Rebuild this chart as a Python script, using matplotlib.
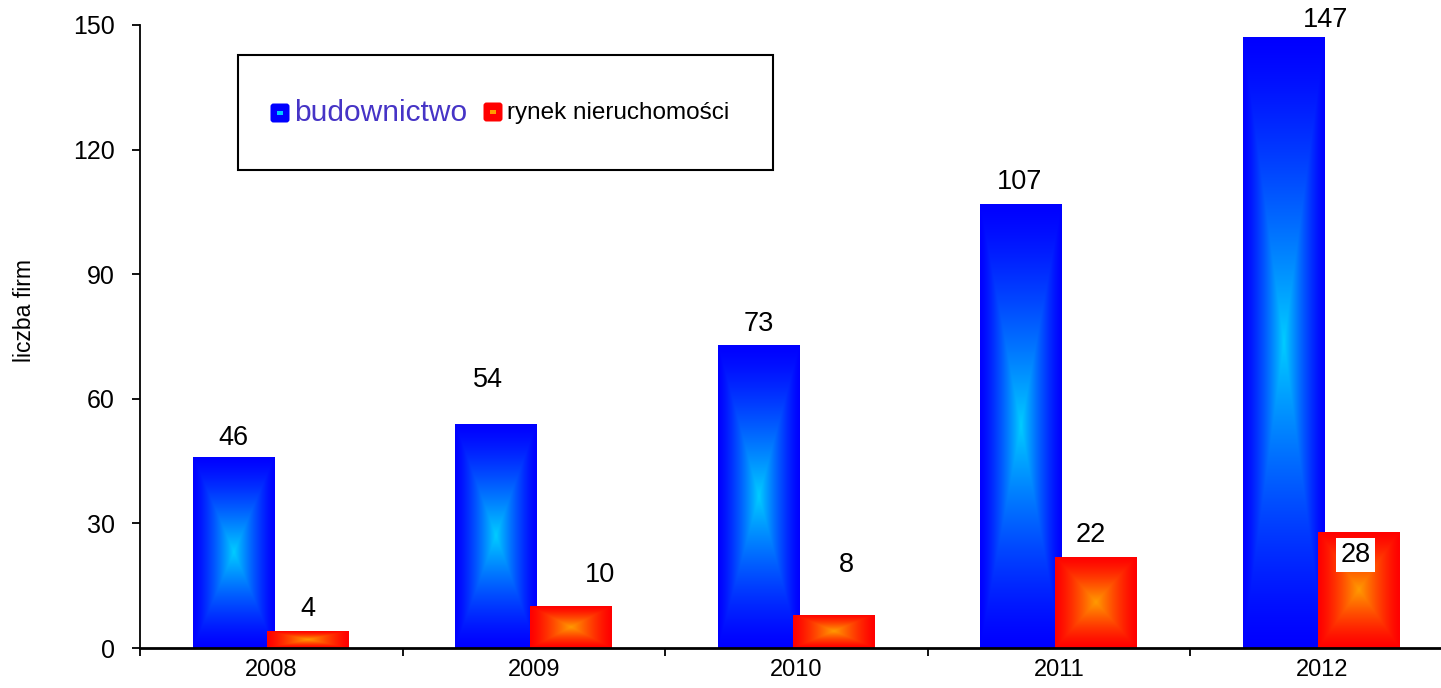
import numpy as np
import matplotlib
matplotlib.use("Agg")
import matplotlib.pyplot as plt
from matplotlib.patches import Rectangle, FancyBboxPatch
from matplotlib.transforms import Affine2D

# ---------------- data ----------------
years = ["2008", "2009", "2010", "2011", "2012"]
budownictwo = [46, 54, 73, 107, 147]
rynek = [4, 10, 8, 22, 28]
yticks = [0, 30, 60, 90, 120, 150]
series_names = ["budownictwo", "rynek nieruchomości"]
ylabel = "liczba firm"

# label offsets in pixels (dx, dy from bar top) -- styling only
blue_lbl_off = [(0, 12), (-8, 37), (0, 14), (-1, 15), (42, 10)]
red_lbl_off = [(0, 15), (29, 24), (13, 43), (-5, 15), (-3, -30)]

plt.rcParams['font.family'] = ['Liberation Sans', 'DejaVu Sans']

W, H = 1441, 688
fig = plt.figure(figsize=(W / 100, H / 100), dpi=100)
ax = fig.add_axes([140 / W, 40 / H, 1313 / W, 623 / H])

x = np.arange(len(years))
bw = 0.31
off_b, off_r = -0.145, 0.14

BLUE_EDGE = np.array([0, 0, 255]) / 255
BLUE_CENTER = np.array([0, 205, 255]) / 255
RED_EDGE = np.array([255, 0, 0]) / 255
RED_CENTER = np.array([255, 155, 0]) / 255


def grad(edge, center, nx=160, ny=400, p=1.3):
    u = np.linspace(-1, 1, nx)
    v = np.linspace(-1, 1, ny)
    U, V = np.meshgrid(u, v)
    t = np.maximum(np.abs(U), np.abs(V))
    w = (1 - t) ** p
    img = edge[None, None, :] + (center - edge)[None, None, :] * w[:, :, None]
    return np.clip(img, 0, 1)


def gradient_bars(xs, vals, edge, center):
    bars = ax.bar(xs, vals, width=bw, color='none', linewidth=0, zorder=2)
    img = grad(edge, center)
    for b in bars:
        x0, y0 = b.get_x(), b.get_y()
        w, h = b.get_width(), b.get_height()
        im = ax.imshow(img, extent=(x0, x0 + w, y0, y0 + h), aspect='auto',
                       interpolation='bilinear', zorder=2, origin='lower')
        im.set_clip_path(b)
    return bars


bars_b = gradient_bars(x + off_b, budownictwo, BLUE_EDGE, BLUE_CENTER)
bars_r = gradient_bars(x + off_r, rynek, RED_EDGE, RED_CENTER)

for b, v, (dx, dy) in zip(bars_b, budownictwo, blue_lbl_off):
    ax.annotate(str(v), (b.get_x() + b.get_width() / 2, v), xytext=(dx, dy),
                textcoords='offset pixels', ha='center', va='baseline',
                fontsize=19.5, annotation_clip=False, zorder=5)
for i, (b, v, (dx, dy)) in enumerate(zip(bars_r, rynek, red_lbl_off)):
    kw = {}
    if i == len(rynek) - 1:
        kw['bbox'] = dict(facecolor='white', edgecolor='none', pad=3)
    ax.annotate(str(v), (b.get_x() + b.get_width() / 2, v), xytext=(dx, dy),
                textcoords='offset pixels', ha='center', va='baseline',
                fontsize=19.5, annotation_clip=False, zorder=5, **kw)

ax.set_xlim(-0.5, len(years) - 0.5)
ax.set_ylim(0, 150)

for s in ['top', 'right']:
    ax.spines[s].set_visible(False)
ax.spines['left'].set_linewidth(1.3)
ax.spines['bottom'].set_linewidth(2)
ax.spines['bottom'].set_zorder(4)

ax.set_yticks(yticks)
ax.tick_params(axis='y', direction='out', length=6, width=1.3, pad=12, labelsize=18)
ax.set_xticks(np.arange(len(years) + 1) - 0.5)
ax.set_xticklabels([])
ax.set_xticks(x, minor=True)
ax.set_xticklabels(years, minor=True)
ax.tick_params(axis='x', which='major', direction='out', length=6, width=1.3)
ax.tick_params(axis='x', which='minor', length=0, pad=8, labelsize=17)

fig.text(25 / W, 1 - 311 / H, ylabel, rotation=90, ha='center', va='center', fontsize=16.5)

# ---------------- legend (pixel coordinates, origin top-left) ----------------
pix = Affine2D().scale(1 / W, -1 / H).translate(0, 1) + fig.transFigure
fig.patches.append(Rectangle((238, 55), 535, 115, transform=pix, fill=False,
                             edgecolor='black', linewidth=1.5))
fig.patches.append(FancyBboxPatch((272, 105), 16, 16, boxstyle='round,pad=1.5,rounding_size=3',
                                  transform=pix, facecolor=BLUE_EDGE, edgecolor='none'))
fig.patches.append(Rectangle((277, 111), 6, 4, transform=pix, facecolor=BLUE_CENTER, edgecolor='none'))
fig.patches.append(FancyBboxPatch((485, 104), 16, 16, boxstyle='round,pad=1.5,rounding_size=3',
                                  transform=pix, facecolor=RED_EDGE, edgecolor='none'))
fig.patches.append(Rectangle((490, 110), 6, 4, transform=pix, facecolor=RED_CENTER, edgecolor='none'))
fig.text(294 / W, 1 - 113 / H, series_names[0], ha='left', va='center', fontsize=21.5, color='#4634C6')
fig.text(507 / W, 1 - 113 / H, series_names[1], ha='left', va='center', fontsize=17.5, color='black')

fig.savefig('out.png', dpi=100)
